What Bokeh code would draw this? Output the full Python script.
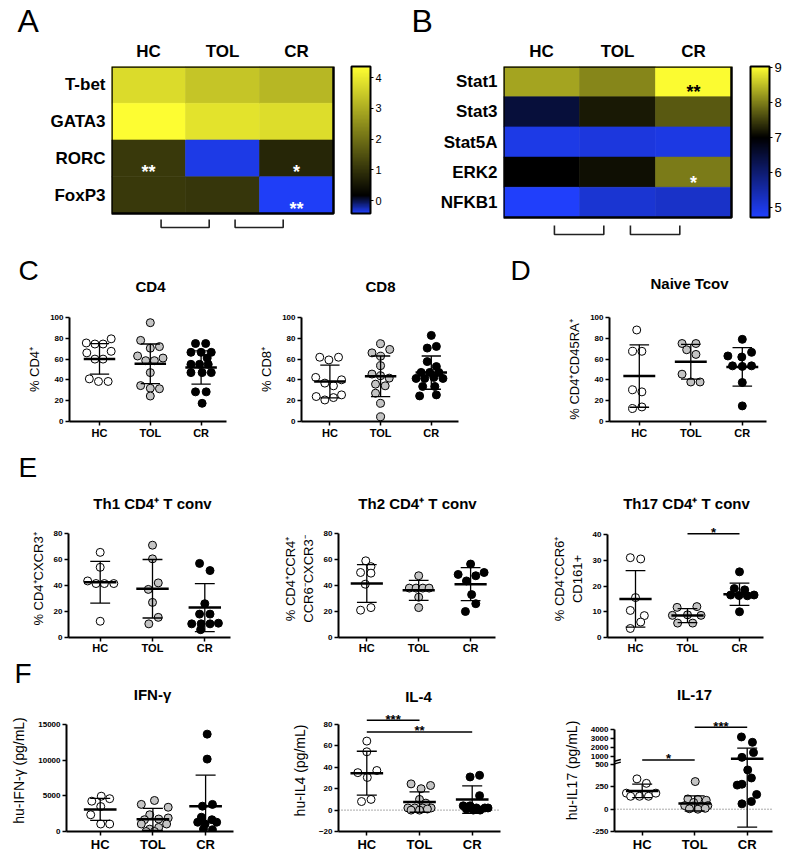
import numpy as np
from bokeh.plotting import figure
from bokeh.models import (ColumnDataSource, FixedTicker, LinearColorMapper, ColorBar,
                          Range1d, Title)
from bokeh.layouts import row, column
from bokeh.embed import file_html
from bokeh.resources import INLINE
from bokeh.core.properties import value

FONT = "Liberation Sans"
GROUPS = ["HC", "TOL", "CR"]
FILLS = ["white", "#c4c4c4", "black"]

# ---------------- Panel A (heatmap) ----------------
A_GENES = ["T-bet", "GATA3", "RORC", "FoxP3"]
A_HC = [3.75, 4.31, 1.10, 1.10]
A_TOL = [3.39, 3.88, -0.35, 1.05]
A_CR = [3.17, 3.79, 0.78, -0.40]
A_STARS = [("RORC", 0, "**", "white"), ("RORC", 2, "*", "white"), ("FoxP3", 2, "**", "white")]
A_CB_TICKS = [0, 1, 2, 3, 4]
A_LOW, A_HIGH = -0.42, 4.36

# ---------------- Panel B (heatmap) ----------------
B_GENES = ["Stat1", "Stat3", "Stat5A", "ERK2", "NFKB1"]
B_HC = [8.31, 6.47, 4.94, 7.00, 4.75]
B_TOL = [8.06, 7.21, 5.03, 7.12, 5.13]
B_CR = [9.00, 7.72, 4.98, 7.98, 5.21]
B_STARS = [("Stat1", 2, "**", "black"), ("ERK2", 2, "*", "white")]
B_CB_TICKS = [5, 6, 7, 8, 9]
B_LOW, B_HIGH = 4.71, 9.04

# ---------------- panel titles ----------------
TITLES_C_D = ["CD4", "CD8", "Naive Tcov"]
TITLES_E = ["Th1 CD4\u207a T conv", "Th2 CD4\u207a T conv", "Th17 CD4\u207a T conv"]
TITLES_F = ["IFN-\u03b3", "IL-4", "IL-17"]

# ---------------- Panel C ----------------
CD4_HC = [75.5, 74.5, 74.5, 79.5, 66, 60, 60, 67.5, 41, 38.5, 38.5]
CD4_HC_DX = [-0.26, -0.09, 0.07, 0.23, -0.25, -0.09, 0.07, 0.23, -0.2, -0.02, 0.17]
CD4_TOL = [95, 78, 70.5, 72, 63, 58.5, 58.5, 61, 47, 34.5, 32, 31.5, 24.5]
CD4_TOL_DX = [0, -0.19, 0, 0.18, -0.25, -0.09, 0.08, 0.25, 0, -0.19, 0, 0.18, 0]
CD4_CR = [75, 75, 66.5, 66.5, 66.5, 61, 55, 55, 55, 47, 47, 47, 28.5, 28.5, 17.5]
CD4_CR_DX = [-0.11, 0.09, -0.2, 0, 0.2, 0.12, -0.2, -0.03, 0.14, -0.2, 0.02, 0.2, -0.11, 0.1, 0.02]
CD4_MEAN = [60.2, 55.5, 52.0]
CD4_SD = [14.7, 19.0, 16.0]

CD8_HC = [61.8, 59.2, 61.8, 42.4, 36.9, 34.3, 40.1, 24, 20.7, 23, 25.6]
CD8_HC_DX = [-0.2, -0.02, 0.17, -0.28, -0.1, 0.07, 0.23, -0.27, -0.1, 0.07, 0.23]
CD8_TOL = [66, 74.8, 69.3, 62.8, 53.7, 45.6, 44, 41.7, 35.9, 34.3, 27.2, 17.5, 4.5]
CD8_TOL_DX = [-0.17, 0, 0.18, 0, 0, -0.17, 0, 0.17, -0.1, 0.09, -0.1, 0, 0]
CD8_CR = [82.8, 70.6, 72.2, 57.6, 52.8, 47.2, 47.2, 47.2, 41.4, 41.4, 42.4, 41.4, 33.7, 33.7, 24.6, 25.6]
CD8_CR_DX = [0, -0.08, 0.1, -0.08, 0.1, -0.2, -0.03, 0.15, -0.3, -0.13, 0.05, 0.23, -0.17, 0.07, -0.23, 0.1]
CD8_MEAN = [38.5, 43.5, 47.0]
CD8_SD = [15.8, 19.5, 16.0]

# ---------------- Panel D ----------------
NAIVE_HC = [88, 67.5, 67.5, 30.5, 28.5, 12.5, 14]
NAIVE_HC_DX = [-0.05, -0.13, 0.05, -0.13, 0.05, -0.13, 0.05]
NAIVE_TOL = [75, 75, 69, 64.5, 45.5, 38, 38]
NAIVE_TOL_DX = [-0.17, 0.1, -0.08, 0.1, -0.17, 0, 0.18]
NAIVE_CR = [79, 63, 62, 66.5, 53.5, 53, 53.5, 37.5, 15]
NAIVE_CR_DX = [0, -0.28, -0.01, 0.18, -0.19, 0, 0.18, 0, 0]
NAIVE_MEAN = [43.7, 57.5, 52.5]
NAIVE_SD = [30.0, 16.7, 18.5]

# ---------------- Panel E ----------------
TH1_HC = [65.5, 54, 43.5, 41.5, 41.5, 41.5, 12.5]
TH1_HC_DX = [0, 0, -0.24, -0.08, 0.08, 0.26, 0]
TH1_TOL = [71, 60.5, 37, 42, 27, 10.5, 15.5]
TH1_TOL_DX = [0, 0, -0.08, 0.11, 0, -0.07, 0.11]
TH1_CR = [57, 51.5, 26, 18, 18, 10.5, 10.5, 10.5, 11, 6]
TH1_CR_DX = [-0.1, 0.1, 0, -0.1, 0.1, -0.25, -0.07, 0.1, 0.26, -0.08]
TH1_MEAN = [42.5, 37.5, 23.0]
TH1_SD = [16.0, 22.5, 18.5]

TH2_HC = [59, 54.5, 50, 49.5, 41, 21, 23]
TH2_HC_DX = [-0.02, 0.08, -0.12, 0.08, -0.03, -0.12, 0.08]
TH2_TOL = [47.5, 38, 38, 38, 38, 31, 23]
TH2_TOL_DX = [0, -0.18, -0.05, 0.08, 0.2, 0, 0]
TH2_CR = [56.5, 48.5, 47.5, 50, 43.5, 33, 26, 20]
TH2_CR_DX = [0, -0.24, 0.1, 0.26, -0.08, 0.02, 0.1, -0.1]
TH2_MEAN = [41.5, 36.3, 41.0]
TH2_SD = [14.5, 7.7, 12.7]

TH17_HC = [31, 30.5, 15.5, 10.5, 8.5, 6, 3.5]
TH17_HC_DX = [-0.1, 0.1, 0, -0.1, 0.17, 0.1, -0.1]
TH17_TOL = [11.7, 12, 8.6, 8.8, 8.6, 5.6, 5.6]
TH17_TOL_DX = [-0.2, 0.18, -0.29, 0, 0.26, -0.19, 0.1]
TH17_CR = [25.5, 19, 18.5, 16.5, 16.3, 16.2, 16.5, 10]
TH17_CR_DX = [0, -0.1, 0.1, -0.17, -0.01, 0.15, 0.28, 0]
TH17_MEAN = [15.0, 8.5, 16.8]
TH17_SD = [11.0, 2.7, 4.3]
TH17_SIG = [(2, 3, 40.3, "*")]

# ---------------- Panel F ----------------
IFN_HC = [4250, 4950, 4600, 3500, 2350, 1050, 1050]
IFN_HC_DX = [-0.16, 0.02, 0.18, 0.01, -0.18, 0.01, 0.18]
IFN_TOL = [3800, 4350, 3400, 2350, 1650, 1750, 1900, 1050, 330, 570, 1050, 0, 0]
IFN_TOL_DX = [-0.22, 0.03, 0.29, -0.06, -0.16, 0.11, 0.29, -0.22, -0.06, 0.11, 0.26, 0.03, -0.13]
IFN_CR = [13650, 10150, 3550, 3800, 2000, 1650, 1300, 1300, 330, 250, 1050]
IFN_CR_DX = [0.03, 0.03, -0.06, 0.13, -0.08, 0.12, -0.15, 0.21, -0.04, 0.13, -0.01]
IFN_MEAN = [3100, 1700, 3550]
IFN_SD = [1550, 1550, 4350]

IL4_HC = [64.5, 54.5, 35, 37, 30.5, 8, 10]
IL4_HC_DX = [0, 0, -0.17, 0.19, 0.01, -0.1, 0.08]
IL4_TOL = [24.5, 20, 23, 10, 6.5, 2, 2, 2, 2, 0, 0, 1]
IL4_TOL_DX = [-0.16, 0.03, 0.21, 0, 0.12, -0.22, -0.09, 0.06, 0.22, -0.16, 0, 0.15]
IL4_CR = [31, 32.5, 13.5, 4, 4, 2, 2, 1, 0, 0, 2]
IL4_CR_DX = [-0.04, 0.14, 0.14, -0.17, -0.04, 0.08, 0.24, -0.11, 0.02, 0.15, 0.3]
IL4_MEAN = [34.5, 7.5, 9.8]
IL4_SD = [20.5, 9.5, 12.9]
IL4_SIG = [(1, 2, 84, "***"), (1, 3, 73, "**")]

IL17_HC = [340, 290, 180, 180, 145, 145, 145]
IL17_HC_DX = [-0.1, 0.08, -0.3, 0.26, -0.22, -0.05, 0.12]
IL17_TOL = [310, 115, 110, 100, 75, 40, 35, 30, 40, 5, 0, 10]
IL17_TOL_DX = [0.01, -0.13, 0.06, 0.22, -0.02, -0.19, -0.03, 0.13, 0.25, -0.1, 0.06, 0.2]
IL17_CR = [3200, 2600, 950, 1450, 440, 270, 280, 350, 165, 60, 86]
IL17_CR_DX = [-0.11, 0.1, -0.1, 0.12, 0.01, -0.19, -0.1, 0.08, 0.18, -0.1, 0.08]
IL17_MEAN = [205, 65, 870]
IL17_SD = [75, 85, 1070]
IL17_SIG = [(1, 2, 790, "*"), (2, 3, 4300, "***")]
IL17_TICKS = [-250, 0, 250, 500, 1000, 2000, 3000, 4000]


def il17_scale(v):
    """Broken y axis: linear up to 500, compressed 1000-4000 segment."""
    v = float(v)
    if v <= 500:
        return v
    if v < 1000:
        return 500 + (v - 500) * 90 / 500
    return 590 + (v - 1000) / 10


def build_palette(stops, n=256):
    out = []
    for i in range(n):
        f = i / (n - 1)
        rgb = stops[-1][1]
        for (f0, c0), (f1, c1) in zip(stops[:-1], stops[1:]):
            if f0 <= f <= f1:
                t = (f - f0) / (f1 - f0) if f1 > f0 else 0
                rgb = [round(a + (b - a) * t) for a, b in zip(c0, c1)]
                break
        out.append("#%02x%02x%02x" % tuple(rgb))
    return out


def base_fig(fig_box, frame, x_range, y_range, **kw):
    fx0, fy0, fx1, fy1 = fig_box
    L, T, R, B = frame
    p = figure(frame_width=int(R - L), frame_height=int(B - T),
               min_border_left=int(L - fx0), min_border_right=int(fx1 - R),
               min_border_top=int(T - fy0), min_border_bottom=int(fy1 - B),
               x_range=x_range, y_range=y_range, output_backend="svg",
               toolbar_location=None, **kw)
    p.outline_line_color = None
    p.xgrid.grid_line_color = None
    p.ygrid.grid_line_color = None
    p.background_fill_color = "white"
    p.border_fill_color = "white"
    return p


def text_strip(y0, y1, items, width=792):
    """A full-width band that carries panel letters and panel titles."""
    p = figure(frame_width=width, frame_height=int(y1 - y0), min_border=0,
               x_range=Range1d(0, width), y_range=Range1d(y1, y0),
               x_axis_location=None, y_axis_location=None,
               output_backend="svg", toolbar_location=None)
    p.outline_line_color = None
    p.xgrid.grid_line_color = None
    p.ygrid.grid_line_color = None
    for txt, x, y, size, bold, align in items:
        p.text(x=[x], y=[y], text=[txt], text_align=align, text_baseline="middle",
               text_font=value(FONT), text_font_size=size,
               text_font_style="bold" if bold else "normal", text_color="black")
    return p


def heatmap(fig_box, frame, cell_w, cell_h, genes, cols, stops, low, high, cb_ticks,
            cb_font, bar_left, letter, letter_x, stars, star_off_px, bracket_px):
    L, T, R, B = frame
    nrow, ncol = len(genes), len(cols)
    x_end = (R - L) / cell_w
    y_start = -(B - (T + nrow * cell_h)) / cell_h
    p = base_fig(fig_box, frame, Range1d(0, x_end), Range1d(y_start, nrow),
                 x_axis_location="above")
    xs, ys, vs = [], [], []
    for j, col in enumerate(cols):
        for i, v in enumerate(col):
            xs.append(j + 0.5)
            ys.append(nrow - i - 0.5)
            vs.append(v)
    mapper = LinearColorMapper(palette=build_palette(stops), low=low, high=high)
    src = ColumnDataSource(dict(x=xs, y=ys, v=vs))
    p.rect(x="x", y="y", width=1, height=1, source=src,
           fill_color={"field": "v", "transform": mapper},
           line_color={"field": "v", "transform": mapper}, line_width=0.6)
    p.rect(x=[ncol / 2], y=[nrow / 2], width=ncol, height=nrow, fill_alpha=0,
           line_color="black", line_width=2.5)
    sx, sy, st, sc = [], [], [], []
    for gene, j, txt, colr in stars:
        i = genes.index(gene)
        sx.append(j + 0.5)
        sy.append(nrow - i - 0.5 - star_off_px / cell_h)
        st.append(txt)
        sc.append(colr)
    p.text(x=sx, y=sy, text=st, text_color=sc, text_align="center", text_baseline="middle",
           text_font=value(FONT), text_font_style="bold", text_font_size="18px")
    top = -bracket_px[0] / cell_h
    bot = -bracket_px[1] / cell_h
    bxs, bys = [], []
    for b in range(1, ncol):
        bxs.append([b - 0.33, b - 0.33, b + 0.32, b + 0.32])
        bys.append([top, bot, bot, top])
    p.multi_line(xs=bxs, ys=bys, line_color="#222222", line_width=1.6)
    p.xaxis.ticker = FixedTicker(ticks=[j + 0.5 for j in range(ncol)])
    p.xaxis.major_label_overrides = {j + 0.5: GROUPS[j] for j in range(ncol)}
    p.yaxis.ticker = FixedTicker(ticks=[nrow - i - 0.5 for i in range(nrow)])
    p.yaxis.major_label_overrides = {nrow - i - 0.5: g for i, g in enumerate(genes)}
    for ax in (p.xaxis[0], p.yaxis[0]):
        ax.axis_line_color = None
        ax.major_tick_line_color = None
        ax.minor_tick_line_color = None
        ax.major_tick_out = 0
        ax.major_tick_in = 0
        ax.major_label_text_font = FONT
        ax.major_label_text_font_style = "bold"
        ax.major_label_text_font_size = "17px"
        ax.major_label_text_color = "black"
    p.xaxis.major_label_standoff = 6
    p.yaxis.major_label_standoff = 6
    cb = ColorBar(color_mapper=mapper, location=(bar_left - L, B - (T + nrow * cell_h)),
                  width=19, height=int(round(nrow * cell_h)), padding=0, margin=0,
                  ticker=FixedTicker(ticks=cb_ticks), bar_line_color="black",
                  bar_line_width=2, major_tick_line_color="black", major_tick_in=0,
                  major_tick_out=3, minor_tick_line_color=None,
                  major_label_text_font=FONT, major_label_text_font_size=cb_font,
                  major_label_text_color="black", label_standoff=2,
                  background_fill_alpha=0, border_line_color=None)
    p.add_layout(cb, "center")
    p.add_layout(Title(text=letter, align="left", offset=letter_x - L, standoff=0,
                       text_font=FONT, text_font_size="32px", text_font_style="normal",
                       text_color="black"), "above")
    return p


def scatter_panel(fig_box, frame, x1_px, unit_px, axis_end_px, yref, ybounds, yticks,
                  data, means, sds, ylabel, xlab_size="11px", ylab_size="13px", sigs=(),
                  zero_line=False, scale=None, tick_overrides=None, ylabel_standoff=5,
                  xlab_standoff=1):
    L, T, R, B = frame
    tf = scale or (lambda v: v)
    (v0, p0), (v1, p1) = yref
    k = (p0 - p1) / (tf(v1) - tf(v0))
    y_start = tf(v0) - (B - p0) / k
    y_end = y_start + (B - T) / k
    x_start = 1 - (x1_px - L) / unit_px
    x_end = x_start + (R - L) / unit_px
    x_ax_end = x_start + (axis_end_px - L) / unit_px
    p = base_fig(fig_box, frame, Range1d(x_start, x_end), Range1d(y_start, y_end))

    if zero_line:
        p.line(x=[x_start, x_ax_end], y=[tf(0), tf(0)], line_color="#555555",
               line_width=1, line_dash="1 2")

    for g, (vals, dxs) in enumerate(data):
        p.scatter(x=[g + 1 + d for d in dxs], y=[tf(v) for v in vals], size=8,
                  fill_color=FILLS[g], line_color="black", line_width=1)

    gx = [1, 2, 3]
    hw, cw = 0.31, 0.19
    p.segment(x0=[g - hw for g in gx], x1=[g + hw for g in gx],
              y0=[tf(m) for m in means], y1=[tf(m) for m in means],
              line_color="black", line_width=2.5)
    lo = [tf(m - s) for m, s in zip(means, sds)]
    hi = [tf(m + s) for m, s in zip(means, sds)]
    p.segment(x0=gx, x1=gx, y0=lo, y1=hi, line_color="black", line_width=1.3)
    p.segment(x0=[g - cw for g in gx] * 2, x1=[g + cw for g in gx] * 2,
              y0=lo + hi, y1=lo + hi, line_color="black", line_width=1.3)

    for g0, g1, yv, txt in sigs:
        p.segment(x0=[g0], x1=[g1], y0=[tf(yv)], y1=[tf(yv)], line_color="black",
                  line_width=1.5)
        p.text(x=[(g0 + g1) / 2], y=[tf(yv)], text=[txt], text_align="center",
               text_baseline="alphabetic", text_font=value(FONT), text_font_style="bold",
               text_font_size="13px", text_color="black", y_offset=-1)

    p.xaxis.ticker = FixedTicker(ticks=[1, 2, 3])
    p.xaxis.major_label_overrides = {1: "HC", 2: "TOL", 3: "CR"}
    p.xaxis.bounds = (x_start, x_ax_end)
    p.yaxis.ticker = FixedTicker(ticks=[tf(t) for t in yticks])
    if tick_overrides:
        p.yaxis.major_label_overrides = tick_overrides
    p.yaxis.bounds = (tf(ybounds[0]), tf(ybounds[1]))
    for ax in (p.xaxis[0], p.yaxis[0]):
        ax.axis_line_width = 2
        ax.axis_line_color = "black"
        ax.major_tick_line_width = 1.5
        ax.major_tick_line_color = "black"
        ax.major_tick_out = 4
        ax.major_tick_in = 0
        ax.minor_tick_line_color = None
        ax.major_label_text_font = FONT
        ax.major_label_text_font_style = "bold"
        ax.major_label_text_color = "black"
    p.xaxis.major_label_text_font_size = xlab_size
    p.xaxis.major_label_standoff = xlab_standoff
    p.yaxis.major_label_text_font_size = "8px"
    p.yaxis.major_label_standoff = 2
    p.yaxis.axis_label = ylabel
    p.yaxis.axis_label_text_font = FONT
    p.yaxis.axis_label_text_font_style = "normal"
    p.yaxis.axis_label_text_font_size = ylab_size
    p.yaxis.axis_label_text_color = "black"
    p.yaxis.axis_label_standoff = ylabel_standoff
    return p, x_start


# ---------------- build panels ----------------
STOPS_A = [(0.0, (32, 64, 255)), (0.12, (0, 0, 0)), (1.0, (255, 255, 50))]
STOPS_B = [(0.0, (32, 64, 255)), (0.53, (0, 0, 0)), (1.0, (255, 255, 50))]

# row 1: heatmaps (same frame top/bottom so the row keeps its height)
pA = heatmap((0, 0, 400, 244), (111, 66, 395, 244), 74, 36.75, A_GENES,
             [A_HC, A_TOL, A_CR], STOPS_A, A_LOW, A_HIGH, A_CB_TICKS, "11px", 351,
             "A", 17, A_STARS, 14, (6, 14))
pB = heatmap((400, 0, 792, 244), (503, 66, 790, 244), 76, 30.2, B_GENES,
             [B_HC, B_TOL, B_CR], STOPS_B, B_LOW, B_HIGH, B_CB_TICKS, "13px", 750,
             "B", 411, B_STARS, 10.8, (8, 17))

strip2 = text_strip(244, 300, [("C", 18, 270, "28px", False, "left"),
                               (TITLES_C_D[0], 150, 286, "15px", True, "center"),
                               (TITLES_C_D[1], 380, 286, "15px", True, "center"),
                               ("D", 510, 270, "28px", False, "left"),
                               (TITLES_C_D[2], 689, 283, "15px", True, "center")])

ROW2_Y = ((0, 421), (100, 317))
pCD4, _ = scatter_panel((0, 300, 255, 446), (69, 317, 245, 421), 99, 50.8, 226,
                        ROW2_Y, (0, 100), [0, 20, 40, 60, 80, 100],
                        [(CD4_HC, CD4_HC_DX), (CD4_TOL, CD4_TOL_DX), (CD4_CR, CD4_CR_DX)],
                        CD4_MEAN, CD4_SD, "% CD4\u207a")
pCD8, _ = scatter_panel((255, 300, 505, 446), (301, 317, 490, 421), 329.4, 50.7, 458,
                        ROW2_Y, (0, 100), [0, 20, 40, 60, 80, 100],
                        [(CD8_HC, CD8_HC_DX), (CD8_TOL, CD8_TOL_DX), (CD8_CR, CD8_CR_DX)],
                        CD8_MEAN, CD8_SD, "% CD8\u207a")
pD, _ = scatter_panel((505, 300, 792, 446), (609, 317, 785, 421), 638.8, 51.5, 766,
                      ROW2_Y, (0, 100), [0, 20, 40, 60, 80, 100],
                      [(NAIVE_HC, NAIVE_HC_DX), (NAIVE_TOL, NAIVE_TOL_DX),
                       (NAIVE_CR, NAIVE_CR_DX)],
                      NAIVE_MEAN, NAIVE_SD, "% CD4\u207aCD45RA\u207a")

strip3 = text_strip(446, 514, [("E", 18, 467, "28px", False, "left"),
                               (TITLES_E[0], 152, 503, "15px", True, "center"),
                               (TITLES_E[1], 417, 503, "15px", True, "center"),
                               (TITLES_E[2], 686, 503, "15px", True, "center")])

pTh1, _ = scatter_panel((0, 514, 270, 655), (68, 520, 255, 637), 99.7, 52.3, 230,
                        ((0, 637), (80, 533)), (0, 80), [0, 20, 40, 60, 80],
                        [(TH1_HC, TH1_HC_DX), (TH1_TOL, TH1_TOL_DX), (TH1_CR, TH1_CR_DX)],
                        TH1_MEAN, TH1_SD, "% CD4\u207aCXCR3\u207a", xlab_standoff=0)
pTh2, _ = scatter_panel((270, 514, 540, 655), (338, 520, 525, 637), 366.3, 51.9, 495,
                        ((0, 637), (80, 533)), (0, 80), [0, 20, 40, 60, 80],
                        [(TH2_HC, TH2_HC_DX), (TH2_TOL, TH2_TOL_DX), (TH2_CR, TH2_CR_DX)],
                        TH2_MEAN, TH2_SD, "% CD4\u207aCCR4\u207a\nCCR6\u207bCXCR3\u207b",
                        xlab_standoff=0)
pTh17, _ = scatter_panel((540, 514, 792, 655), (607, 520, 785, 637), 635, 52, 763,
                         ((0, 637), (40, 534)), (0, 40), [0, 10, 20, 30, 40],
                         [(TH17_HC, TH17_HC_DX), (TH17_TOL, TH17_TOL_DX),
                          (TH17_CR, TH17_CR_DX)],
                         TH17_MEAN, TH17_SD, "% CD4\u207aCCR6\u207a\nCD161+",
                         sigs=TH17_SIG, xlab_standoff=0)

strip4 = text_strip(655, 706, [("F", 14, 672, "28px", False, "left"),
                               (TITLES_F[0], 152, 693, "15px", True, "center"),
                               (TITLES_F[1], 418, 695, "15px", True, "center"),
                               (TITLES_F[2], 694, 693, "15px", True, "center")])

pIFN, _ = scatter_panel((0, 706, 270, 853), (66, 708, 255, 830), 99.7, 52.7, 233,
                        ((0, 830), (15000, 723)), (0, 15000), [0, 5000, 10000, 15000],
                        [(IFN_HC, IFN_HC_DX), (IFN_TOL, IFN_TOL_DX), (IFN_CR, IFN_CR_DX)],
                        IFN_MEAN, IFN_SD, "hu-IFN-\u03b3 (pg/mL)",
                        xlab_size="13px", ylab_size="14px", ylabel_standoff=8)
pIL4, _ = scatter_panel((270, 706, 540, 853), (338, 708, 525, 830), 366.3, 52.7, 500,
                        ((-20, 830), (80, 723)), (-20, 80), [-20, 0, 20, 40, 60, 80],
                        [(IL4_HC, IL4_HC_DX), (IL4_TOL, IL4_TOL_DX), (IL4_CR, IL4_CR_DX)],
                        IL4_MEAN, IL4_SD, "hu-IL4 (pg/mL)",
                        xlab_size="13px", ylab_size="14px", sigs=IL4_SIG, zero_line=True,
                        ylabel_standoff=8)
il17_over = {il17_scale(t): str(t) for t in IL17_TICKS}
pIL17, il17_x0 = scatter_panel((540, 706, 792, 853), (614, 708, 785, 830), 641.7, 52.5, 772,
                               ((-250, 830), (0, 807.7)), (-250, 4000), IL17_TICKS,
                               [(IL17_HC, IL17_HC_DX), (IL17_TOL, IL17_TOL_DX),
                                (IL17_CR, IL17_CR_DX)],
                               IL17_MEAN, IL17_SD, "hu-IL17 (pg/mL)",
                               xlab_size="13px", ylab_size="14px", sigs=IL17_SIG,
                               zero_line=True, scale=il17_scale, tick_overrides=il17_over,
                               ylabel_standoff=8)
b_lo = il17_scale(500)
pIL17.segment(x0=[il17_x0, il17_x0], x1=[il17_x0 + 0.12, il17_x0 + 0.12],
              y0=[b_lo + 8, b_lo + 38], y1=[b_lo + 28, b_lo + 58],
              line_color="black", line_width=1.5)

layout = column(row(pA, pB), strip2, row(pCD4, pCD8, pD), strip3,
                row(pTh1, pTh2, pTh17), strip4, row(pIFN, pIL4, pIL17))

with open("out.html", "w") as f:
    f.write(file_html(layout, INLINE, "Figure"))
